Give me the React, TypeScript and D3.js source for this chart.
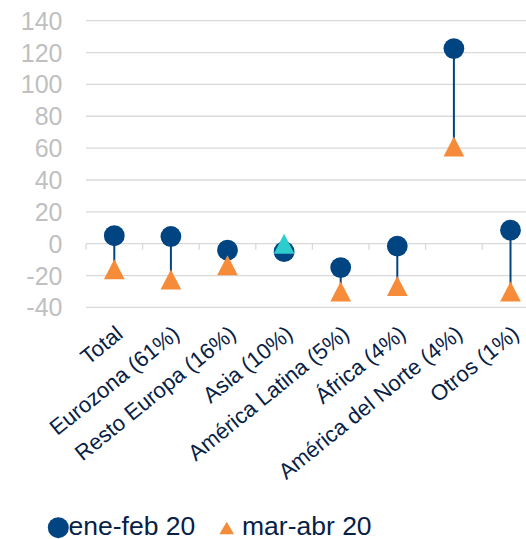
import React from "react";
import * as d3 from "d3";

const categories = [
  "Total",
  "Eurozona (61%)",
  "Resto Europa (16%)",
  "Asia (10%)",
  "América Latina (5%)",
  "África (4%)",
  "América del Norte (4%)",
  "Otros (1%)",
];
const eneFeb = [5, 4.5, -4, -5, -15, -1.5, 122.5, 8.5];
const marAbr = [-16, -22.5, -13.5, 0, -30, -26.5, 61, -30];
const highlighted = ["Asia (10%)"];
const yTicks = [-40, -20, 0, 20, 40, 60, 80, 100, 120, 140];
const seriesNames = ["ene-feb 20", "mar-abr 20"];

const W = 526;
const H = 539;
const BLUE = "#004481";
const ORANGE = "#F68B3A";
const TEAL = "#2DCCCD";
const FONT = "'Liberation Sans', Arial, sans-serif";

export default function App() {
  const x = d3.scaleBand<string>().domain(categories).range([86, 538.8]).padding(0);
  const y = d3.scaleLinear().domain([-40, 140]).range([307.4, 20.7]);
  const r = 10.4;
  const triPath = (w: number, h: number) =>
    `M0,${-h / 2}L${w / 2},${h / 2}L${-w / 2},${h / 2}Z`;

  return (
    <svg
      width={W}
      height={H}
      style={{ position: "absolute", left: 0, top: 0, display: "block" }}
    >
      <rect width={W} height={H} fill="#fff" />
      {yTicks.map((t) => (
        <g key={t}>
          <line x1={86} x2={W} y1={y(t)} y2={y(t)} stroke="#d9d9d9" strokeWidth={1.3} />
          <text
            x={62.5}
            y={y(t)}
            dy="0.36em"
            textAnchor="end"
            fontFamily={FONT}
            fontSize={25}
            fill="#c0c0c0"
          >
            {t}
          </text>
        </g>
      ))}
      {categories.map((c, i) => (
        <line
          key={"tk" + i}
          x1={x(c) as number}
          x2={x(c) as number}
          y1={y(0)}
          y2={y(0) + 6}
          stroke="#d9d9d9"
          strokeWidth={1.3}
        />
      ))}
      {categories.map((c, i) => {
        const cx = (x(c) as number) + x.bandwidth() / 2;
        return (
          <line
            key={"st" + i}
            x1={cx}
            x2={cx}
            y1={y(eneFeb[i])}
            y2={y(marAbr[i])}
            stroke={BLUE}
            strokeWidth={2}
          />
        );
      })}
      {categories.map((c, i) => {
        const cx = (x(c) as number) + x.bandwidth() / 2;
        return <circle key={"c" + i} cx={cx} cy={y(eneFeb[i])} r={r} fill={BLUE} />;
      })}
      {categories.map((c, i) => {
        const cx = (x(c) as number) + x.bandwidth() / 2;
        return (
          <path
            key={"t" + i}
            d={triPath(20.7, 20)}
            transform={`translate(${cx},${y(marAbr[i])})`}
            fill={highlighted.includes(c) ? TEAL : ORANGE}
          />
        );
      })}
      {categories.map((c, i) => {
        const cx = (x(c) as number) + x.bandwidth() / 2;
        return (
          <text
            key={"l" + i}
            transform={`translate(${cx},${324}) rotate(-39)`}
            dy="0.72em"
            textAnchor="end"
            fontFamily={FONT}
            fontSize={22}
            fill="#072146"
          >
            {c}
          </text>
        );
      })}
      <g>
        <circle cx={58.3} cy={527.7} r={10.5} fill={BLUE} />
        <text x={68.5} y={534.5} fontFamily={FONT} fontSize={26.5} fill="#072146">
          {seriesNames[0]}
        </text>
        <path d={triPath(14.7, 12.6)} transform="translate(226.7,528)" fill={ORANGE} />
        <text x={242} y={534.5} fontFamily={FONT} fontSize={26.5} fill="#072146">
          {seriesNames[1]}
        </text>
      </g>
    </svg>
  );
}
